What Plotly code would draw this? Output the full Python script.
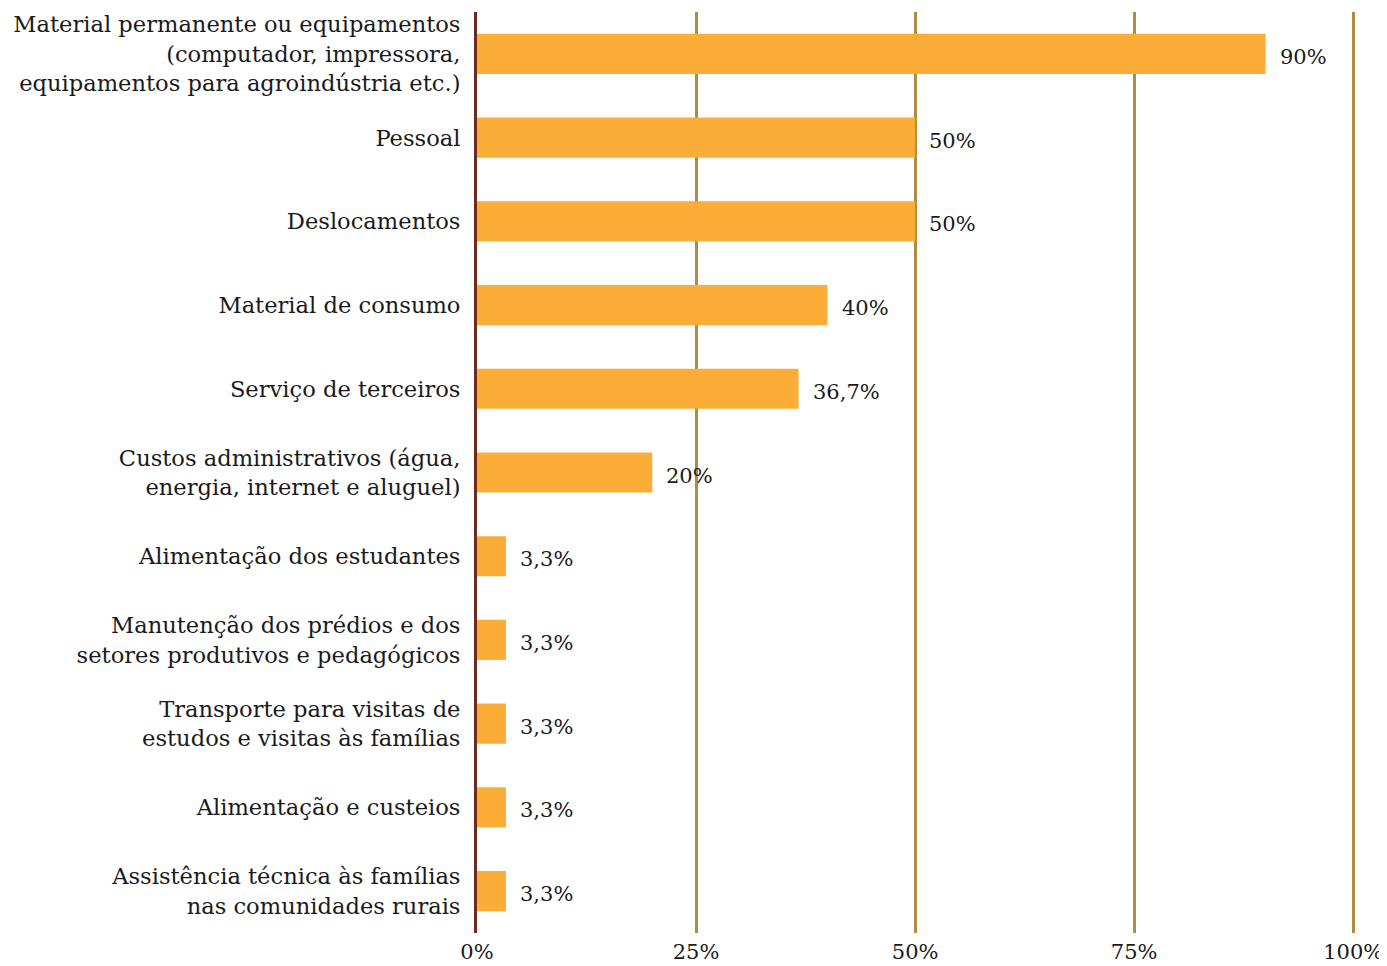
import plotly.graph_objects as go

categories = [
    "Material permanente ou equipamentos<br>(computador, impressora,<br>equipamentos para agroindústria etc.)",
    "Pessoal",
    "Deslocamentos",
    "Material de consumo",
    "Serviço de terceiros",
    "Custos administrativos (água,<br>energia, internet e aluguel)",
    "Alimentação dos estudantes",
    "Manutenção dos prédios e dos<br>setores produtivos e pedagógicos",
    "Transporte para visitas de<br>estudos e visitas às famílias",
    "Alimentação e custeios",
    "Assistência técnica às famílias<br>nas comunidades rurais",
]
values = [90, 50, 50, 40, 36.7, 20, 3.3, 3.3, 3.3, 3.3, 3.3]
value_labels = ["90%", "50%", "50%", "40%", "36,7%", "20%", "3,3%", "3,3%", "3,3%", "3,3%", "3,3%"]
x_ticks = [0, 25, 50, 75, 100]

FONT = "DejaVu Serif"
BAR = "#FAAE38"
GRID = "#B08B42"
ZERO = "#6E2A1F"

fig = go.Figure(go.Bar(
    x=values, y=categories, orientation="h",
    marker=dict(color=BAR, line=dict(width=0)),
    hoverinfo="skip",
))

for c, v, lab in zip(categories, values, value_labels):
    fig.add_annotation(x=v, y=c, text=lab, showarrow=False, xanchor="left",
                       xshift=12, yshift=-3,
                       font=dict(family=FONT, size=21, color="#1a1a1a"))

# page body has a default 8px margin, so the figure is drawn offset by 8px
fig.update_layout(
    width=1379, height=958,
    margin=dict(l=469, r=32, t=4, b=33, autoexpand=False),
    plot_bgcolor="white", paper_bgcolor="white",
    bargap=0.52,
    showlegend=False,
    font=dict(family=FONT, size=21, color="#1a1a1a"),
    xaxis=dict(range=[0, 100.2], tickvals=x_ticks, ticktext=[f"{t}%" for t in x_ticks],
               showgrid=True, gridcolor=GRID, gridwidth=3, zeroline=False,
               showline=False, ticks="", tickfont=dict(size=21), automargin=False,
               ticklabelstandoff=4),
    yaxis=dict(autorange="reversed", showgrid=False, zeroline=False,
               showline=True, linecolor=ZERO, linewidth=3, ticks="",
               ticklabelstandoff=9, tickfont=dict(size=22.6), automargin=False),
)

fig.write_html("out.html")
